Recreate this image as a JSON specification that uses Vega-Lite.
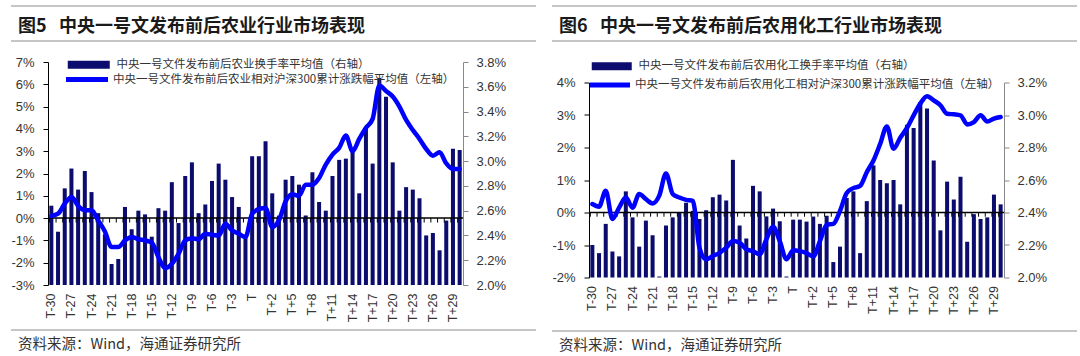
{
  "$schema": "https://vega.github.io/schema/vega-lite/v6.json",
  "background": "white",
  "padding": {"left": 10, "top": 5, "right": 0, "bottom": 0},
  "config": {
    "view": {"stroke": null},
    "font": "Liberation Sans",
    "axis": {"labelFont": "Liberation Sans", "labelFontSize": 13, "labelColor": "#333333", "grid": false, "title": null},
    "legend": {"labelFont": "Noto Sans CJK SC", "labelFontSize": 11.5, "labelColor": "#333333", "labelLimit": 600, "padding": 0, "title": null}
  },
  "datasets": {
    "agri": [
      {"t":"T-30","turn":2.64,"rel":0.1},{"t":"T-29","turn":2.43,"rel":0.2},{"t":"T-28","turn":2.78,"rel":0.65},{"t":"T-27","turn":2.94,"rel":0.95},
      {"t":"T-26","turn":2.77,"rel":0.55},{"t":"T-25","turn":2.92,"rel":0.35},{"t":"T-24","turn":2.75,"rel":0.35},{"t":"T-23","turn":2.58,"rel":-0.1},
      {"t":"T-22","turn":2.41,"rel":-0.6},{"t":"T-21","turn":2.17,"rel":-1.3},{"t":"T-20","turn":2.21,"rel":-1.3},{"t":"T-19","turn":2.63,"rel":-1.0},
      {"t":"T-18","turn":2.45,"rel":-0.85},{"t":"T-17","turn":2.60,"rel":-0.95},{"t":"T-16","turn":2.57,"rel":-1.0},{"t":"T-15","turn":2.39,"rel":-1.1},
      {"t":"T-14","turn":2.62,"rel":-1.75},{"t":"T-13","turn":2.60,"rel":-2.25},{"t":"T-12","turn":2.83,"rel":-2.05},{"t":"T-11","turn":2.50,"rel":-1.6},
      {"t":"T-10","turn":2.88,"rel":-1.0},{"t":"T-9","turn":2.99,"rel":-0.9},{"t":"T-8","turn":2.58,"rel":-0.95},{"t":"T-7","turn":2.65,"rel":-0.7},
      {"t":"T-6","turn":2.84,"rel":-0.75},{"t":"T-5","turn":2.98,"rel":-0.78},{"t":"T-4","turn":2.85,"rel":-0.25},{"t":"T-3","turn":2.71,"rel":-0.55},
      {"t":"T-2","turn":2.63,"rel":-0.7},{"t":"T-1","turn":2.40,"rel":-0.85},{"t":"T","turn":3.04,"rel":0.2},{"t":"T+0","turn":3.04,"rel":0.4},
      {"t":"T+1","turn":3.16,"rel":0.45},{"t":"T+2","turn":2.74,"rel":-0.4},{"t":"T+3","turn":2.56,"rel":-0.1},{"t":"T+4","turn":2.85,"rel":0.75},
      {"t":"T+5","turn":2.88,"rel":1.07},{"t":"T+6","turn":2.81,"rel":1.0},{"t":"T+7","turn":2.56,"rel":1.5},{"t":"T+8","turn":2.91,"rel":1.5},
      {"t":"T+9","turn":2.67,"rel":1.8},{"t":"T+10","turn":2.60,"rel":2.4},{"t":"T+11","turn":2.88,"rel":2.85},{"t":"T+12","turn":3.01,"rel":3.15},
      {"t":"T+13","turn":3.02,"rel":3.7},{"t":"T+14","turn":3.08,"rel":3.0},{"t":"T+15","turn":2.74,"rel":3.55},{"t":"T+16","turn":3.26,"rel":4.05},
      {"t":"T+17","turn":2.98,"rel":4.45},{"t":"T+18","turn":3.67,"rel":5.95},{"t":"T+19","turn":3.52,"rel":5.7},{"t":"T+20","turn":2.99,"rel":5.45},
      {"t":"T+21","turn":2.60,"rel":5.0},{"t":"T+22","turn":2.79,"rel":4.4},{"t":"T+23","turn":2.77,"rel":3.95},{"t":"T+24","turn":2.70,"rel":3.55},
      {"t":"T+25","turn":2.40,"rel":3.1},{"t":"T+26","turn":2.42,"rel":2.8},{"t":"T+27","turn":2.28,"rel":2.95},{"t":"T+28","turn":2.52,"rel":2.45},
      {"t":"T+29","turn":3.10,"rel":2.2},{"t":"T+30","turn":3.09,"rel":2.2}
    ],
    "chem": [
      {"t":"T-30","turn":2.20,"rel":0.26},{"t":"T-29","turn":2.15,"rel":0.18},{"t":"T-28","turn":2.33,"rel":0.67},{"t":"T-27","turn":2.16,"rel":-0.2},
      {"t":"T-26","turn":2.13,"rel":0.15},{"t":"T-25","turn":2.53,"rel":0.46},{"t":"T-24","turn":2.37,"rel":0.15},{"t":"T-23","turn":2.19,"rel":0.57},
      {"t":"T-22","turn":2.35,"rel":0.41},{"t":"T-21","turn":2.26,"rel":0.28},{"t":"T-20","turn":2.006,"rel":0.52},{"t":"T-19","turn":2.32,"rel":1.2},
      {"t":"T-18","turn":2.37,"rel":0.57},{"t":"T-17","turn":2.40,"rel":0.46},{"t":"T-16","turn":2.46,"rel":0.39},{"t":"T-15","turn":2.41,"rel":0.36},
      {"t":"T-14","turn":2.36,"rel":-1.08},{"t":"T-13","turn":2.414,"rel":-1.44},{"t":"T-12","turn":2.494,"rel":-1.34},{"t":"T-11","turn":2.51,"rel":-1.24},
      {"t":"T-10","turn":2.474,"rel":-1.08},{"t":"T-9","turn":2.724,"rel":-0.88},{"t":"T-8","turn":2.32,"rel":-0.93},{"t":"T-7","turn":2.24,"rel":-1.13},
      {"t":"T-6","turn":2.564,"rel":-1.19},{"t":"T-5","turn":2.53,"rel":-1.29},{"t":"T-4","turn":2.376,"rel":-0.82},{"t":"T-3","turn":2.424,"rel":-0.44},
      {"t":"T-2","turn":2.346,"rel":-0.88},{"t":"T-1","turn":2.006,"rel":-1.44},{"t":"T","turn":2.356,"rel":-1.16},{"t":"T+0","turn":2.356,"rel":-1.19},
      {"t":"T+1","turn":2.344,"rel":-1.25},{"t":"T+2","turn":2.375,"rel":-1.35},{"t":"T+3","turn":2.33,"rel":-0.88},{"t":"T+4","turn":2.38,"rel":-0.38},
      {"t":"T+5","turn":2.095,"rel":-0.35},{"t":"T+6","turn":2.19,"rel":0.05},{"t":"T+7","turn":2.49,"rel":0.6},{"t":"T+8","turn":2.53,"rel":0.75},
      {"t":"T+9","turn":2.15,"rel":0.82},{"t":"T+10","turn":2.47,"rel":1.24},{"t":"T+11","turn":2.69,"rel":1.6},{"t":"T+12","turn":2.60,"rel":2.11},
      {"t":"T+13","turn":2.58,"rel":2.65},{"t":"T+14","turn":2.60,"rel":1.96},{"t":"T+15","turn":2.45,"rel":2.3},{"t":"T+16","turn":2.94,"rel":2.6},
      {"t":"T+17","turn":2.92,"rel":2.99},{"t":"T+18","turn":3.08,"rel":3.35},{"t":"T+19","turn":3.04,"rel":3.58},{"t":"T+20","turn":2.72,"rel":3.45},
      {"t":"T+21","turn":2.29,"rel":3.3},{"t":"T+22","turn":2.59,"rel":3.04},{"t":"T+23","turn":2.48,"rel":3.02},{"t":"T+24","turn":2.62,"rel":2.99},
      {"t":"T+25","turn":2.22,"rel":2.71},{"t":"T+26","turn":2.39,"rel":2.78},{"t":"T+27","turn":2.36,"rel":2.99},{"t":"T+28","turn":2.37,"rel":2.8},
      {"t":"T+29","turn":2.51,"rel":2.89},{"t":"T+30","turn":2.45,"rel":2.94}
    ]
  },
  "spacing": 14,
  "resolve": {"scale": {"fill": "independent", "stroke": "independent"}, "legend": {"fill": "independent", "stroke": "independent"}},
  "hconcat": [
    {
      "spacing": 14,
      "resolve": {"scale": {"fill": "independent", "stroke": "independent"}, "legend": {"fill": "independent", "stroke": "independent"}},
      "vconcat": [
        {
          "width": 488, "height": 35,
          "data": {"values": [{"p": 0}, {"p": 1}]},
          "mark": {"type": "rule", "color": "#8c8c8c", "strokeWidth": 1},
          "encoding": {
            "x": {"datum": -0.0758, "type": "quantitative", "scale": {"domain": [0, 1], "nice": false, "zero": false}, "axis": null},
            "x2": {"datum": 1},
            "y": {"field": "p", "type": "quantitative", "scale": {"domain": [0, 1]}, "axis": null}
          },
          "title": {"text": "图5\u00a0\u00a0\u00a0中央一号文发布前后农业行业市场表现", "orient": "top", "anchor": "start", "frame": "group", "offset": -30, "dx": -30, "font": "Noto Sans CJK SC", "fontSize": 18, "fontWeight": "bold", "color": "#1a1a1a"}
        },
        {
          "spacing": 7,
          "resolve": {"scale": {"fill": "independent", "stroke": "independent"}, "legend": {"fill": "independent", "stroke": "independent"}},
          "vconcat": [
            {
              "width": 415, "height": 223,
              "data": {"name": "agri"},
              "layer": [
                {
                  "mark": {"type": "bar"},
                  "encoding": {
                    "x": {"field": "t", "type": "ordinal", "sort": null, "scale": {"paddingInner": 0.4, "paddingOuter": 0.2}, "axis": {"orient": "bottom", "domain": false, "ticks": false, "labelAngle": -90, "labelPadding": 8, "labelFontSize": 12.5, "labelExpr": "indexof(['T-30','T-27','T-24','T-21','T-18','T-15','T-12','T-9','T-6','T-3','T','T+2','T+5','T+8','T+11','T+14','T+17','T+20','T+23','T+26','T+29'], datum.value) >= 0 ? datum.value : ''"}},
                    "y": {"field": "turn", "type": "quantitative", "scale": {"domain": [2.0, 3.8], "nice": false, "zero": false}, "axis": {"orient": "right", "values": [2.0, 2.2, 2.4, 2.6, 2.8, 3.0, 3.2, 3.4, 3.6, 3.8], "labelExpr": "format(datum.value, '.1f') + '%'", "domainColor": "#888888", "tickColor": "#888888", "tickSize": 5, "labelPadding": 8}},
                    "y2": {"datum": 2.0},
                    "fill": {"datum": "中央一号文件发布前后农业换手率平均值（右轴）", "type": "nominal", "scale": {"range": ["#0c0c6e"]}, "legend": {"orient": "none", "legendX": 35, "legendY": -3, "symbolType": "M-5.25,-1H5.25V1H-5.25Z", "symbolSize": 64, "symbolStrokeWidth": 0, "labelOffset": 22}}
                  }
                },
                {
                  "data": {"values": [{"z": 0}]},
                  "mark": {"type": "rule", "color": "#000000", "strokeWidth": 1.5},
                  "encoding": {"y": {"field": "z", "type": "quantitative", "scale": {"domain": [-3, 7], "nice": false, "zero": false}, "axis": null}}
                },
                {
                  "mark": {"type": "rule", "color": "#000000", "strokeWidth": 1},
                  "encoding": {
                    "x": {"field": "t", "type": "ordinal", "sort": null, "bandPosition": 0, "scale": {"paddingInner": 0.4, "paddingOuter": 0.2}, "axis": {"orient": "bottom", "domain": false, "ticks": false, "labelAngle": -90, "labelPadding": 8, "labelFontSize": 12.5, "labelExpr": "indexof(['T-30','T-27','T-24','T-21','T-18','T-15','T-12','T-9','T-6','T-3','T','T+2','T+5','T+8','T+11','T+14','T+17','T+20','T+23','T+26','T+29'], datum.value) >= 0 ? datum.value : ''"}},
                    "y": {"datum": 0, "type": "quantitative", "scale": {"domain": [-3, 7], "nice": false, "zero": false}, "axis": null},
                    "y2": {"datum": -0.2}
                  }
                },
                {
                  "mark": {"type": "line", "strokeWidth": 4.5, "interpolate": "monotone", "strokeCap": "round", "strokeJoin": "round"},
                  "encoding": {
                    "x": {"field": "t", "type": "ordinal", "sort": null, "scale": {"paddingInner": 0.4, "paddingOuter": 0.2}, "axis": {"orient": "bottom", "domain": false, "ticks": false, "labelAngle": -90, "labelPadding": 8, "labelFontSize": 12.5, "labelExpr": "indexof(['T-30','T-27','T-24','T-21','T-18','T-15','T-12','T-9','T-6','T-3','T','T+2','T+5','T+8','T+11','T+14','T+17','T+20','T+23','T+26','T+29'], datum.value) >= 0 ? datum.value : ''"}},
                    "y": {"field": "rel", "type": "quantitative", "scale": {"domain": [-3, 7], "nice": false, "zero": false}, "axis": {"orient": "left", "values": [-3, -2, -1, 0, 1, 2, 3, 4, 5, 6, 7], "labelExpr": "datum.value + '%'", "domainColor": "#000000", "tickColor": "#000000", "tickSize": 5, "labelPadding": 9}},
                    "stroke": {"datum": "中央一号文件发布前后农业相对沪深300累计涨跌幅平均值（左轴）", "type": "nominal", "scale": {"range": ["#0000ff"]}, "legend": {"orient": "none", "legendX": 32.5, "legendY": 11, "symbolType": "M-5.25,0H5.25", "symbolSize": 64, "symbolStrokeWidth": 5, "symbolFillColor": "transparent", "labelOffset": 19.5}}
                  }
                }
              ],
              "resolve": {"scale": {"y": "independent"}, "axis": {"y": "independent"}}
            },
            {
              "width": 488, "height": 6,
              "data": {"values": [{"p": 1}]},
              "mark": {"type": "rule", "color": "#8c8c8c", "strokeWidth": 1},
              "encoding": {
                "x": {"datum": -0.0758, "type": "quantitative", "scale": {"domain": [0, 1], "nice": false, "zero": false}, "axis": null},
                "x2": {"datum": 1},
                "y": {"field": "p", "type": "quantitative", "scale": {"domain": [0, 1]}, "axis": null}
              },
              "title": {"text": "资料来源：Wind，海通证券研究所", "orient": "bottom", "anchor": "start", "frame": "group", "offset": 2, "dx": -30, "font": "Noto Sans CJK SC", "fontSize": 14.5, "fontWeight": "normal", "color": "#333333"}
            }
          ]
        }
      ]
    },
    {
      "spacing": 18.5,
      "resolve": {"scale": {"fill": "independent", "stroke": "independent"}, "legend": {"fill": "independent", "stroke": "independent"}},
      "vconcat": [
        {
          "width": 488, "height": 35,
          "data": {"values": [{"p": 0}, {"p": 1}]},
          "mark": {"type": "rule", "color": "#8c8c8c", "strokeWidth": 1},
          "encoding": {
            "x": {"datum": -0.0758, "type": "quantitative", "scale": {"domain": [0, 1], "nice": false, "zero": false}, "axis": null},
            "x2": {"datum": 1},
            "y": {"field": "p", "type": "quantitative", "scale": {"domain": [0, 1]}, "axis": null}
          },
          "title": {"text": "图6\u00a0\u00a0\u00a0中央一号文发布前后农用化工行业市场表现", "orient": "top", "anchor": "start", "frame": "group", "offset": -30, "dx": -30, "font": "Noto Sans CJK SC", "fontSize": 18, "fontWeight": "bold", "color": "#1a1a1a"}
        },
        {
          "spacing": 15.5,
          "resolve": {"scale": {"fill": "independent", "stroke": "independent"}, "legend": {"fill": "independent", "stroke": "independent"}},
          "vconcat": [
            {
              "width": 415, "height": 195,
              "data": {"name": "chem"},
              "layer": [
                {
                  "mark": {"type": "bar"},
                  "encoding": {
                    "x": {"field": "t", "type": "ordinal", "sort": null, "scale": {"paddingInner": 0.4, "paddingOuter": 0.2}, "axis": {"orient": "bottom", "domain": false, "ticks": false, "labelAngle": -90, "labelPadding": 8, "labelFontSize": 12.5, "labelExpr": "indexof(['T-30','T-27','T-24','T-21','T-18','T-15','T-12','T-9','T-6','T-3','T','T+2','T+5','T+8','T+11','T+14','T+17','T+20','T+23','T+26','T+29'], datum.value) >= 0 ? datum.value : ''"}},
                    "y": {"field": "turn", "type": "quantitative", "scale": {"domain": [2.0, 3.2], "nice": false, "zero": false}, "axis": {"orient": "right", "values": [2.0, 2.2, 2.4, 2.6, 2.8, 3.0, 3.2], "labelExpr": "format(datum.value, '.1f') + '%'", "domainColor": "#888888", "tickColor": "#888888", "tickSize": 5, "labelPadding": 8}},
                    "y2": {"datum": 2.0},
                    "fill": {"datum": "中央一号文件发布前后农用化工换手率平均值（右轴）", "type": "nominal", "scale": {"range": ["#0c0c6e"]}, "legend": {"orient": "none", "legendX": 17, "legendY": -22, "symbolType": "M-5,-1H5V1H-5Z", "symbolSize": 64, "symbolStrokeWidth": 0, "labelOffset": 21}}
                  }
                },
                {
                  "data": {"values": [{"z": 0}]},
                  "mark": {"type": "rule", "color": "#000000", "strokeWidth": 1.5},
                  "encoding": {"y": {"field": "z", "type": "quantitative", "scale": {"domain": [-2, 4], "nice": false, "zero": false}, "axis": null}}
                },
                {
                  "mark": {"type": "rule", "color": "#000000", "strokeWidth": 1},
                  "encoding": {
                    "x": {"field": "t", "type": "ordinal", "sort": null, "bandPosition": 0, "scale": {"paddingInner": 0.4, "paddingOuter": 0.2}, "axis": {"orient": "bottom", "domain": false, "ticks": false, "labelAngle": -90, "labelPadding": 8, "labelFontSize": 12.5, "labelExpr": "indexof(['T-30','T-27','T-24','T-21','T-18','T-15','T-12','T-9','T-6','T-3','T','T+2','T+5','T+8','T+11','T+14','T+17','T+20','T+23','T+26','T+29'], datum.value) >= 0 ? datum.value : ''"}},
                    "y": {"datum": 0, "type": "quantitative", "scale": {"domain": [-2, 4], "nice": false, "zero": false}, "axis": null},
                    "y2": {"datum": -0.13}
                  }
                },
                {
                  "mark": {"type": "line", "strokeWidth": 4.5, "interpolate": "monotone", "strokeCap": "round", "strokeJoin": "round"},
                  "encoding": {
                    "x": {"field": "t", "type": "ordinal", "sort": null, "scale": {"paddingInner": 0.4, "paddingOuter": 0.2}, "axis": {"orient": "bottom", "domain": false, "ticks": false, "labelAngle": -90, "labelPadding": 8, "labelFontSize": 12.5, "labelExpr": "indexof(['T-30','T-27','T-24','T-21','T-18','T-15','T-12','T-9','T-6','T-3','T','T+2','T+5','T+8','T+11','T+14','T+17','T+20','T+23','T+26','T+29'], datum.value) >= 0 ? datum.value : ''"}},
                    "y": {"field": "rel", "type": "quantitative", "scale": {"domain": [-2, 4], "nice": false, "zero": false}, "axis": {"orient": "left", "values": [-2, -1, 0, 1, 2, 3, 4], "labelExpr": "datum.value + '%'", "domainColor": "#000000", "tickColor": "#000000", "tickSize": 5, "labelPadding": 9}},
                    "stroke": {"datum": "中央一号文件发布前后农用化工相对沪深300累计涨跌幅平均值（左轴）", "type": "nominal", "scale": {"range": ["#0000ff"]}, "legend": {"orient": "none", "legendX": 14.5, "legendY": -4, "symbolType": "M-5,0H5", "symbolSize": 64, "symbolStrokeWidth": 5, "symbolFillColor": "transparent", "labelOffset": 18.5}}
                  }
                }
              ],
              "resolve": {"scale": {"y": "independent"}, "axis": {"y": "independent"}}
            },
            {
              "width": 488, "height": 6,
              "data": {"values": [{"p": 1}]},
              "mark": {"type": "rule", "color": "#8c8c8c", "strokeWidth": 1},
              "encoding": {
                "x": {"datum": -0.0758, "type": "quantitative", "scale": {"domain": [0, 1], "nice": false, "zero": false}, "axis": null},
                "x2": {"datum": 1},
                "y": {"field": "p", "type": "quantitative", "scale": {"domain": [0, 1]}, "axis": null}
              },
              "title": {"text": "资料来源：Wind，海通证券研究所", "orient": "bottom", "anchor": "start", "frame": "group", "offset": 2, "dx": -30, "font": "Noto Sans CJK SC", "fontSize": 14.5, "fontWeight": "normal", "color": "#333333"}
            }
          ]
        }
      ]
    }
  ]
}
